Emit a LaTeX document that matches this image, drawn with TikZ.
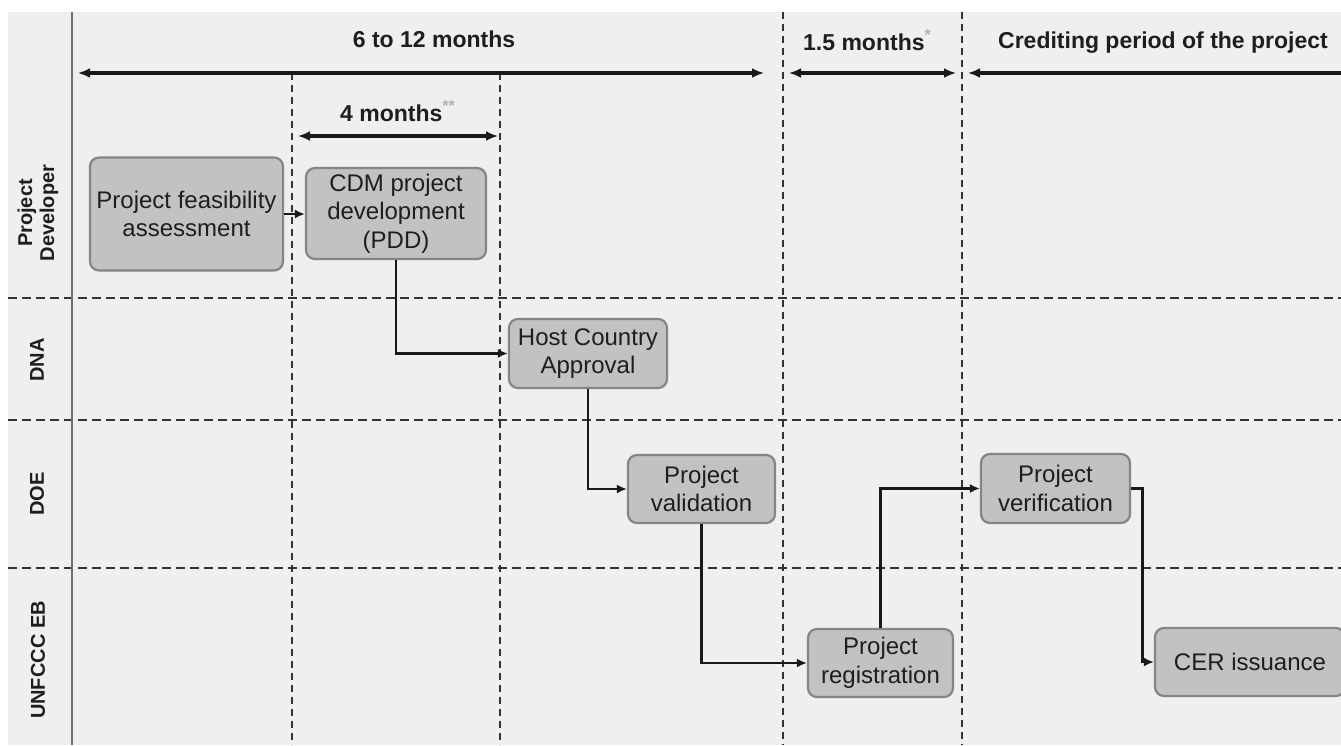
\documentclass[tikz,border=0pt]{standalone}
\usepackage{fontspec}
\setmainfont{Liberation Sans}
\usetikzlibrary{arrows.meta}
\definecolor{bgc}{HTML}{EFEFEF}
\definecolor{boxfill}{HTML}{C2C2C2}
\definecolor{boxdraw}{HTML}{858585}
\definecolor{gridc}{HTML}{333333}
\definecolor{txt}{HTML}{1E1E1E}
\definecolor{axisc}{HTML}{707070}
\begin{document}
\begin{tikzpicture}[x=1pt,y=-1pt,
 box/.style={draw=boxdraw, line width=2.2pt, fill=boxfill, rounded corners=9pt, align=center, font=\fontsize{24}{28.5}\selectfont, text=txt, inner sep=0pt},
 hgrid/.style={draw=gridc, line width=2.2pt, dash pattern=on 9pt off 5pt},
 vgrid/.style={draw=gridc, line width=2.2pt, dash pattern=on 7pt off 5pt},
 conn/.style={draw=black!90, line width=2.8pt, -{Latex[length=10pt,width=9pt]}},
 spanarrow/.style={draw=black!90, line width=3.2pt, {Latex[length=12pt,width=10pt]}-{Latex[length=12pt,width=10pt]}},
 hdr/.style={font=\bfseries\fontsize{23}{27}\selectfont, text=txt, inner sep=0pt},
 lane/.style={font=\bfseries\fontsize{20}{22}\selectfont, rotate=90, align=center, text=txt}]
\clip (0,0) rectangle (1341,745);
\fill[white] (0,0) rectangle (1341,745);
\fill[bgc] (8,12) rectangle (1341,745);
% lane separators
\draw[hgrid] (8,298) -- (1341,298);
\draw[hgrid] (8,420) -- (1341,420);
\draw[hgrid] (8,568) -- (1341,568);
% time separators
\draw[vgrid] (292,73) -- (292,745);
\draw[vgrid] (500,73) -- (500,745);
\draw[vgrid] (783,12) -- (783,745);
\draw[vgrid] (962,12) -- (962,745);
% lane axis
\draw[axisc, line width=2.4pt] (72,12) -- (72,745);
% lane labels
\node[lane] (l1) at (38,213) {Project\\Developer};
\node[lane] (l2) at (37,360) {DNA};
\node[lane] (l3) at (37,494) {DOE};
\node[lane] (l4) at (38,660) {UNFCCC EB};
% time spans
\coordinate (a1) at (78,73);
\coordinate (a2) at (764,73);
\coordinate (b1) at (298,136);
\coordinate (b2) at (498,136);
\coordinate (c1) at (789,73);
\coordinate (c2) at (956,73);
\coordinate (d1) at (968,73);
\coordinate (d2) at (1345,73);
\draw[spanarrow] (a1) -- (a2);
\draw[spanarrow] (b1) -- (b2);
\draw[spanarrow] (c1) -- (c2);
\draw[draw=black!90, line width=3.2pt, {Latex[length=12pt,width=10pt]}-] (d1) -- (d2);
\node[hdr] (h1) at (434,39) {6 to 12 months};
\node[hdr, anchor=base west] (h2) at (340,121) {4 months\textsuperscript{\textcolor{gray!60}{**}}};
\node[hdr, anchor=base west] (h3) at (803,50) {1.5 months\textsuperscript{\textcolor{gray!60}{*}}};
\node[hdr] (h4) at (1163,43) {Crediting period of the project};
% boxes
\node[box, minimum width=193pt, minimum height=113pt] (feas) at (186.5,214) {Project feasibility\\assessment};
\node[box, minimum width=180pt, minimum height=91pt] (cdm) at (396,213.5) {CDM project\\development\\(PDD)};
\node[box, minimum width=158pt, minimum height=69pt] (host) at (588,353.5) {Host Country\\Approval};
\node[box, minimum width=147pt, minimum height=68pt] (val) at (701.5,489) {Project\\validation};
\node[box, minimum width=145pt, minimum height=68pt] (reg) at (880.5,663) {Project\\registration};
\node[box, minimum width=149pt, minimum height=69pt] (ver) at (1055.5,488.5) {Project\\verification};
\node[box, minimum width=190pt, minimum height=68pt] (cer) at (1250,662) {CER issuance};
% connectors
\draw[conn] (feas.east) -- (cdm.west |- feas.east);
\draw[conn] (cdm.south) |- (host.west);
\draw[conn] (host.south) |- (val.west);
\draw[conn] (val.south) |- (reg.west);
\draw[conn] (reg.north) |- (ver.west);
\draw[conn] (ver.east) -- ([xshift=11pt]ver.east) |- (cer.west);
\end{tikzpicture}
\end{document}
